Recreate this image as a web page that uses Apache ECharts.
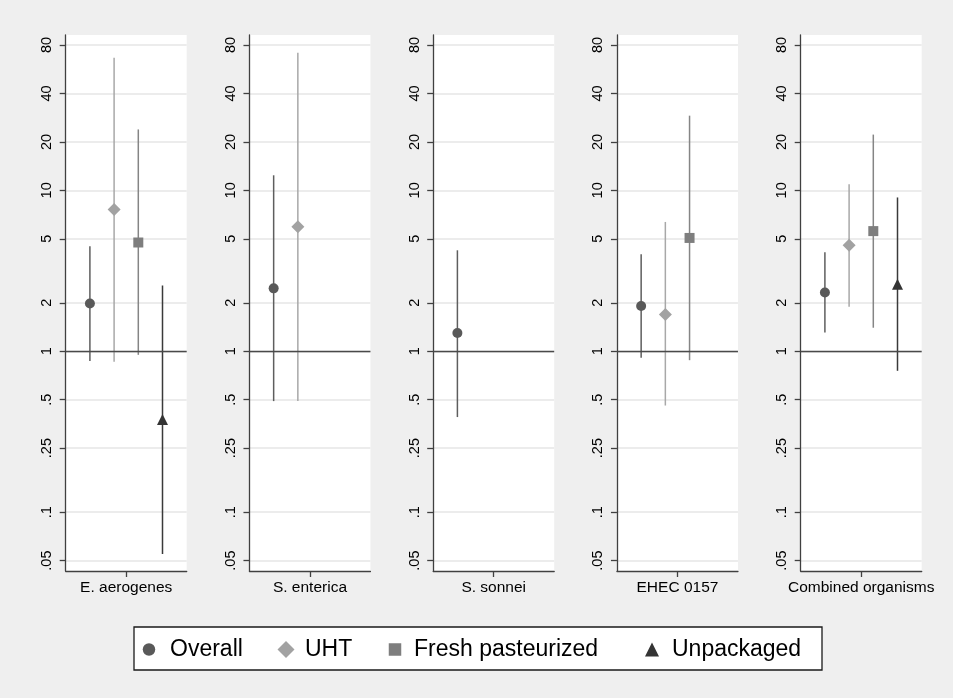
<!DOCTYPE html>
<html><head><meta charset="utf-8">
<script src="https://cdn.jsdelivr.net/npm/echarts@6/dist/echarts.min.js"></script>
<style>html,body{margin:0;padding:0;background:#efefef}#c{width:957px;height:698px}</style>
</head><body><div id="c"></div>
<script>
// ---- data (odds ratios with 95% CI) ----
const categories = ['E. aerogenes', 'S. enterica', 'S. sonnei', 'EHEC 0157', 'Combined organisms'];
const groups = ['Overall', 'UHT', 'Fresh pasteurized', 'Unpackaged'];

const overallEst = [1.98, 2.46, 1.30, 1.91, 2.32];
const overallLo  = [0.87, 0.49, 0.39, 0.91, 1.31];
const overallHi  = [4.49, 12.4, 4.24, 4.00, 4.13];

const uhtEst = [7.6, 5.93, null, 1.69, 4.56];
const uhtLo  = [0.86, 0.49, null, 0.46, 1.89];
const uhtHi  = [66.7, 71.5, null, 6.36, 10.9];

const freshEst = [4.74, null, null, 5.06, 5.58];
const freshLo  = [0.95, null, null, 0.88, 1.40];
const freshHi  = [23.9, null, null, 29.1, 22.2];

const unpackEst = [0.376, null, null, null, 2.61];
const unpackLo  = [0.055, null, null, null, 0.756];
const unpackHi  = [2.56, null, null, null, 9.03];

const yTickValues = [0.05, 0.1, 0.25, 0.5, 1, 2, 5, 10, 20, 40, 80];
const yTickLabels = ['.05', '.1', '.25', '.5', '1', '2', '5', '10', '20', '40', '80'];
const refValue = 1;

// ---- styling ----
const est = [overallEst, uhtEst, freshEst, unpackEst];
const lo = [overallLo, uhtLo, freshLo, unpackLo];
const hi = [overallHi, uhtHi, freshHi, unpackHi];
const symbols = ['circle', 'diamond', 'rect', 'triangle'];
const symbolSizes = [10, 13, 10, 11];
const markerColors = ['#595959', '#a2a2a2', '#7e7e7e', '#343434'];
const lineColors = ['#5e5e5e', '#a8a8a8', '#858585', '#3a3a3a'];
const FONT = 'Liberation Sans, Arial, sans-serif';

function tickLabel(v) {
  let best = 0, bd = Infinity;
  yTickValues.forEach((t, k) => { const d = Math.abs(Math.log10(v) - Math.log10(t)); if (d < bd) { bd = d; best = k; } });
  return yTickLabels[best];
}

const chart = echarts.init(document.getElementById('c'));
const grids = [], xAxes = [], yAxes = [], series = [];
const axisCol = '#404040';

categories.forEach((cat, i) => {
  grids.push({ left: 65.7 + i * 183.75, top: 35, width: 121, height: 536, show: true, backgroundColor: '#ffffff', borderWidth: 0 });
  xAxes.push({
    type: 'value', gridIndex: i, min: 0, max: 5,
    axisLine: { show: true, onZero: false, lineStyle: { color: axisCol, width: 1.3 } },
    axisTick: { show: true, length: 6, customValues: [2.5], lineStyle: { color: axisCol, width: 1.3 } },
    axisLabel: { customValues: [2.5], formatter: () => cat, margin: 9, fontSize: 15.5, color: '#000', fontFamily: FONT },
    splitLine: { show: false }
  });
  yAxes.push({
    type: 'log', logBase: 10, gridIndex: i, min: 0.0431, max: 92.3,
    axisLine: { show: true, lineStyle: { color: axisCol, width: 1.3 } },
    axisTick: { show: true, length: 6, customValues: yTickValues, lineStyle: { color: axisCol, width: 1.3 } },
    axisLabel: { customValues: yTickValues, rotate: 90, margin: 11, fontSize: 14.5, color: '#000', fontFamily: FONT, formatter: v => tickLabel(v) },
    splitLine: { show: true, lineStyle: { color: '#e6e6e6', width: 1.5 } },
    minorTick: { show: false }, minorSplitLine: { show: false }
  });
  // reference line at 1
  series.push({
    type: 'line', name: 'ref' + i, xAxisIndex: i, yAxisIndex: i, data: [], z: 2,
    markLine: { silent: true, symbol: 'none', animation: false, label: { show: false },
      lineStyle: { color: '#4a4a4a', width: 1.4, type: 'solid' }, data: [{ yAxis: refValue }] }
  });
  groups.forEach((g, k) => {
    if (est[k][i] == null) return;
    const xPos = k + 1;
    series.push({
      type: 'custom', name: g + ' CI', xAxisIndex: i, yAxisIndex: i, z: 3, silent: true,
      data: [[xPos, lo[k][i], hi[k][i]]],
      encode: { x: 0, y: [1, 2] },
      renderItem: (params, api) => {
        const p1 = api.coord([api.value(0), api.value(1)]);
        const p2 = api.coord([api.value(0), api.value(2)]);
        return { type: 'line', shape: { x1: p1[0], y1: p1[1], x2: p2[0], y2: p2[1] },
          style: { stroke: lineColors[k], lineWidth: 1.5 } };
      }
    });
    series.push({
      type: 'scatter', name: g, xAxisIndex: i, yAxisIndex: i, z: 4,
      data: [[xPos, est[k][i]]], symbol: symbols[k], symbolSize: symbolSizes[k],
      itemStyle: { color: markerColors[k], opacity: 1 }
    });
  });
});

// legend: icon centres and text starts
const legendIconCenters = [149, 286, 395, 652];
const legendTextStarts = [170, 305, 414, 672];
const legendIconSizes = [12.5, 17, 12.5, 14];
const legends = groups.map((g, k) => {
  const s = legendIconSizes[k];
  const left = legendIconCenters[k] - s / 2;
  const pad = legendTextStarts[k] - (left + s + 5);
  return {
    left: left, top: 638, padding: 0, orient: 'horizontal', selectedMode: false,
    itemWidth: s, itemHeight: s, itemGap: 10,
    data: [{ name: g, icon: symbols[k] }],
    textStyle: { fontSize: 23, color: '#000', fontFamily: FONT, padding: [0, 0, 0, pad] }
  };
});

chart.setOption({
  animation: false,
  backgroundColor: '#efefef',
  grid: grids, xAxis: xAxes, yAxis: yAxes, series: series, legend: legends,
  graphic: [
    { type: 'rect', shape: { x: 134, y: 627, width: 688, height: 43 }, style: { fill: '#ffffff', stroke: '#1a1a1a', lineWidth: 1.3 }, z: -1 },
    { type: 'rect', shape: { x: 953, y: 0, width: 4, height: 698 }, style: { fill: '#ffffff' }, z: -1 }
  ]
});
</script></body></html>
